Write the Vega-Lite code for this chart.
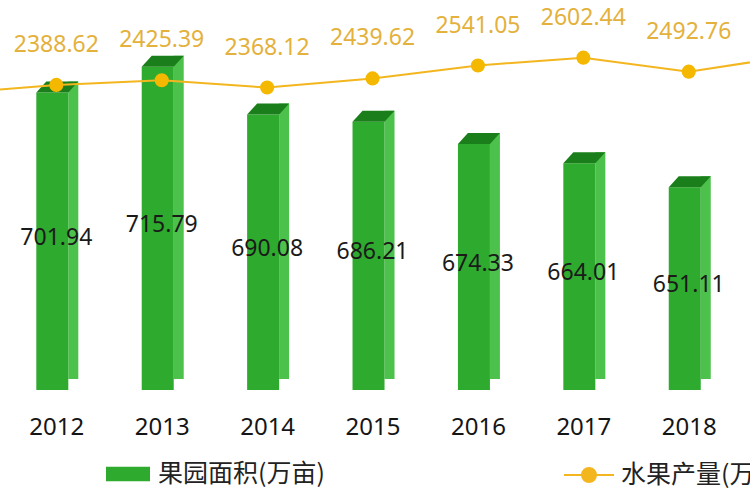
{
  "$schema": "https://vega.github.io/schema/vega-lite/v6.json",
  "width": 750,
  "height": 500,
  "padding": 0,
  "autosize": {"type": "none"},
  "background": "white",
  "config": {"view": {"stroke": null}, "font": "Noto Sans"},
  "datasets": {
    "area": [
      {"year": 2012, "area": 701.94},
      {"year": 2013, "area": 715.79},
      {"year": 2014, "area": 690.08},
      {"year": 2015, "area": 686.21},
      {"year": 2016, "area": 674.33},
      {"year": 2017, "area": 664.01},
      {"year": 2018, "area": 651.11}
    ],
    "output": [
      {"year": 2011, "output": 2320},
      {"year": 2012, "output": 2388.62},
      {"year": 2013, "output": 2425.39},
      {"year": 2014, "output": 2368.12},
      {"year": 2015, "output": 2439.62},
      {"year": 2016, "output": 2541.05},
      {"year": 2017, "output": 2602.44},
      {"year": 2018, "output": 2492.76},
      {"year": 2019, "output": 2618}
    ]
  },
  "encoding": {
    "x": {
      "field": "year",
      "type": "quantitative",
      "scale": {"domain": [2011.5132, 2018.5337], "nice": false, "zero": false},
      "axis": {
        "values": [2012, 2013, 2014, 2015, 2016, 2017, 2018],
        "format": "d",
        "title": null,
        "ticks": false,
        "domain": false,
        "grid": false,
        "offset": -100,
        "labelFontSize": 24,
        "labelColor": "#151515",
        "labelPadding": 15,
        "labelFlush": false,
        "labelOverlap": false,
        "labelFont": "Noto Sans"
      }
    }
  },
  "layer": [
    {
      "data": {"name": "area"},
      "mark": {"type": "bar", "width": 10, "xOffset": 17, "yOffset": -11, "y2Offset": -11, "color": "#4CC24C"},
      "encoding": {
        "y": {"field": "area", "type": "quantitative", "scale": {"domain": [483.55, 751.5], "nice": false, "zero": false}, "axis": null},
        "y2": {"datum": 542.5}
      }
    },
    {
      "data": {"name": "area"},
      "mark": {"type": "bar", "width": 32, "xOffset": -4},
      "encoding": {
        "y": {"field": "area", "type": "quantitative", "scale": {"domain": [483.55, 751.5], "nice": false, "zero": false}, "axis": null},
        "y2": {"datum": 542.5},
        "fill": {
          "datum": "果园面积(万亩)",
          "scale": {"range": ["#2EAA2E"]},
          "legend": {
            "orient": "none",
            "legendX": 106,
            "legendY": 452,
            "title": null,
            "symbolType": "M-1,-0.33H1V0.33H-1Z",
            "symbolSize": 1936,
            "symbolStrokeWidth": 0,
            "labelFont": "Noto Sans CJK SC",
            "labelFontSize": 25,
            "labelColor": "#222222",
            "labelOffset": 8,
            "labelLimit": 400,
            "padding": 0
          }
        }
      }
    },
    {
      "data": {"name": "area"},
      "mark": {"type": "point", "shape": "M-0.8,0L0.48,0L0.88,-0.44L-0.4,-0.44Z", "size": 2500, "filled": true, "color": "#1A7F1A", "opacity": 1, "strokeWidth": 0},
      "encoding": {
        "y": {"field": "area", "type": "quantitative", "scale": {"domain": [483.55, 751.5], "nice": false, "zero": false}, "axis": null}
      }
    },
    {
      "data": {"name": "area"},
      "mark": {"type": "text", "fontSize": 23, "color": "#1a1a1a", "font": "Noto Sans"},
      "encoding": {
        "y": {"field": "area", "type": "quantitative", "scale": {"domain": [420.9, 956.8], "nice": false, "zero": false}, "axis": null},
        "text": {"field": "area", "type": "quantitative", "format": ".2f"}
      }
    },
    {
      "data": {"name": "output"},
      "mark": {"type": "line", "strokeWidth": 2},
      "encoding": {
        "y": {"field": "output", "type": "quantitative", "scale": {"domain": [-866.8, 3054.8], "nice": false, "zero": false}, "axis": null},
        "stroke": {
          "datum": "水果产量(万吨)",
          "scale": {"range": ["#F3B61F"]},
          "legend": {
            "orient": "none",
            "legendX": 563,
            "legendY": 449,
            "title": null,
            "symbolType": "M-1,0H1M0.28,0A0.28,0.28,0,1,1,-0.28,0A0.28,0.28,0,1,1,0.28,0Z",
            "symbolSize": 2500,
            "labelFont": "Noto Sans CJK SC",
            "labelFontSize": 25,
            "labelColor": "#222222",
            "labelOffset": 6,
            "labelLimit": 400,
            "padding": 0,
            "encode": {
              "symbols": {
                "update": {
                  "fill": {"value": "#F3B61F"},
                  "stroke": {"value": "#F3B61F"},
                  "strokeWidth": {"value": 2},
                  "opacity": {"value": 1}
                }
              }
            }
          }
        }
      }
    },
    {
      "data": {"name": "output"},
      "mark": {"type": "circle", "size": 200, "color": "#F5B800", "opacity": 1},
      "encoding": {
        "y": {"field": "output", "type": "quantitative", "scale": {"domain": [-866.8, 3054.8], "nice": false, "zero": false}, "axis": null}
      }
    },
    {
      "data": {"name": "output"},
      "transform": [{"filter": "datum.year >= 2012 && datum.year <= 2018"}],
      "mark": {"type": "text", "fontSize": 23, "color": "#E3B13C", "dy": -40},
      "encoding": {
        "y": {"field": "output", "type": "quantitative", "scale": {"domain": [-866.8, 3054.8], "nice": false, "zero": false}, "axis": null},
        "text": {"field": "output", "type": "quantitative", "format": ".2f"}
      }
    }
  ],
  "resolve": {"scale": {"y": "independent"}}
}
